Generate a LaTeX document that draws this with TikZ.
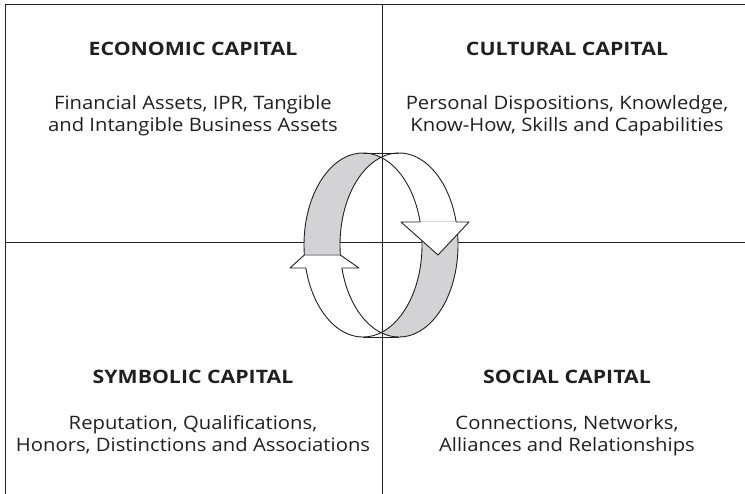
\documentclass[tikz,border=0pt]{standalone}
\usepackage{fontspec}
\setmainfont{Open Sans}
\newfontfamily\bodyfont[FakeStretch=1.095]{Open Sans}
\newfontfamily\headfont[FakeStretch=1.15]{Open Sans}
\definecolor{ink}{RGB}{35,31,32}
\definecolor{band}{RGB}{211,211,213}
\begin{document}
\begin{tikzpicture}[x=1pt,y=-1pt,
  rule/.style={draw=ink,line width=0.9pt},
  edge/.style={draw=ink,line width=0.9pt,line join=round},
  head/.style={font=\headfont\bfseries\fontsize{18.5}{22}\selectfont,text=ink,inner sep=0pt,anchor=base},
  body/.style={font=\bodyfont\fontsize{18.5}{22}\selectfont,text=ink,align=center,inner sep=0pt,anchor=base},
  ring/.style={insert path={(363,245) ellipse [x radius=59pt, y radius=92pt]
                            (399,245) ellipse [x radius=59pt, y radius=92pt]}}]
\useasboundingbox (0,0) rectangle (745,494);

% quadrant rules
\draw[rule] (745,4.5) -- (5,4.5) -- (5,494);
\draw[rule] (5,242) -- (745,242);
\draw[rule] (382,4.5) -- (382,494);

% ring band: right half white above the head, grey below
\begin{scope}
  \clip (381,0) rectangle (745,222);
  \fill[white,even odd rule,ring];
\end{scope}
\begin{scope}
  \clip (381,222) rectangle (745,494);
  \fill[band,even odd rule,ring];
\end{scope}
% left half grey above the head, white below
\begin{scope}
  \clip (0,0) rectangle (381,255);
  \fill[band,even odd rule,ring];
\end{scope}
\begin{scope}
  \clip (0,255) rectangle (381,494);
  \fill[white,even odd rule,ring];
\end{scope}
\draw[edge,ring];
\draw[edge] (363,153) -- (399,153);
\draw[edge] (363,337) -- (399,337);

% downward head on the right
\fill[white] (420.1,222) -- (401,222) -- (438,255) -- (469,222) -- (456.1,222) -- cycle;
\draw[edge] (420.1,222) -- (401,222) -- (438,255) -- (469,222) -- (456.1,222);

% upward head on the left, tip hidden behind the grey band
\fill[white] (304.3,255) -- (290,268) -- (359,268) -- (340.3,255) -- cycle;
\draw[edge] (305.9,268) -- (290,268) -- (304.3,255) -- (340.3,255) -- (359,268) -- (341.9,268);

% quadrant texts (body nodes are anchored at the baseline of their last line)
\node[head] (econ) at (193,56) {ECONOMIC CAPITAL};
\node[body] (econtext) at (193,132) {Financial Assets, IPR, Tangible\\and Intangible Business Assets};
\node[head] (cult) at (567,56) {CULTURAL CAPITAL};
\node[body] (culttext) at (567,132) {Personal Dispositions, Knowledge,\\Know-How, Skills and Capabilities};
\node[head] (symb) at (193,384) {SYMBOLIC CAPITAL};
\node[body] (symbtext) at (193,452) {Reputation, Qualifications,\\Honors, Distinctions and Associations};
\node[head] (soc) at (567,384) {SOCIAL CAPITAL};
\node[body] (soctext) at (567,452) {Connections, Networks,\\Alliances and Relationships};
\end{tikzpicture}
\end{document}
